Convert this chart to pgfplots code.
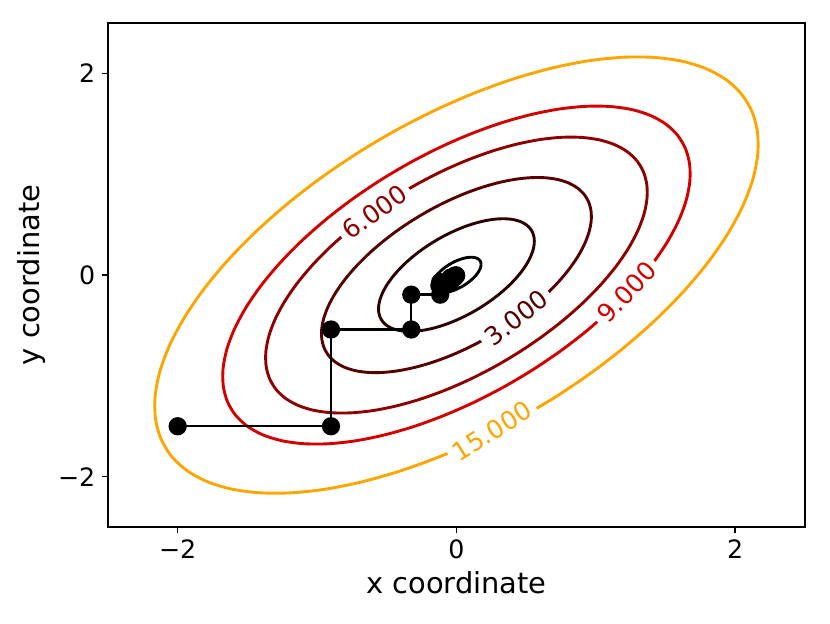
\documentclass[border=0pt]{standalone}
\usepackage{fontspec}
\setmainfont{DejaVu Sans}
\usepackage{pgfplots}
\pgfplotsset{compat=1.18}
\definecolor{cA}{HTML}{000000}
\definecolor{cB}{HTML}{2C0000}
\definecolor{cC}{HTML}{560000}
\definecolor{cD}{HTML}{8E0000}
\definecolor{cE}{HTML}{D40000}
\definecolor{cF}{HTML}{FFA500}
\begin{document}
\begin{tikzpicture}
\useasboundingbox (-59.8pt,-53.2pt) rectangle (399.9pt,291.9pt);
\begin{axis}[
  at={(0,0)}, anchor=south west,
  scale only axis, width=386pt, height=279.1pt,
  xmin=-2.5, xmax=2.5, ymin=-2.5, ymax=2.5,
  xtick={-2,0,2}, ytick={-2,0,2},
  xticklabels={−2,0,2}, yticklabels={−2,0,2},
  tick align=outside, xtick pos=bottom, ytick pos=left,
  major tick length=3.5pt,
  every tick/.style={black, line width=0.8pt},
  axis line style={line width=0.8pt},
  ticklabel style={font=\fontsize{14}{16}\selectfont},
  xlabel={x coordinate}, ylabel={y coordinate},
  label style={font=\fontsize{16}{19}\selectfont},
]
% level 0.1
\addplot[cA, line width=1.6pt, smooth] coordinates {
(.07906,-.07906) (.05774,-.09902) (.03545,-.11729) (.01253,-.13355) (-.01059,-.14752) (-.03353,-.15898)
(-.05591,-.16770) (-.07732,-.17356) (-.09740,-.17646) (-.11582,-.17634) (-.13228,-.17320) (-.14645,-.16708)
(-.15811,-.15811) (-.16708,-.14645) (-.17320,-.13228) (-.17634,-.11582) (-.17646,-.09740) (-.17356,-.07732)
(-.16770,-.05591) (-.15898,-.03353) (-.14752,-.01059) (-.13355,.01253) (-.11729,.03545) (-.09902,.05774)
(-.07906,.07906) (-.05774,.09902) (-.03545,.11729) (-.01253,.13355) (.01059,.14752) (.03353,.15898)
(.05591,.16770) (.07732,.17356) (.09740,.17646) (.11582,.17634) (.13228,.17320) (.14645,.16708)
(.15811,.15811) (.16708,.14645) (.17320,.13228) (.17634,.11582) (.17646,.09740) (.17356,.07732)
(.16770,.05591) (.15898,.03353) (.14752,.01059) (.13355,-.01253) (.11729,-.03545) (.09902,-.05774)
(.07906,-.07906)};
% level 1
\addplot[cB, line width=1.6pt, smooth] coordinates {
(.25,-.25) (.18259,-.31313) (.1121,-.3709) (.03963,-.42231) (-.0335,-.4665) (-.10604,-.50272)
(-.1768,-.5303) (-.24449,-.54887) (-.3080,-.5580) (-.36627,-.55761) (-.4183,-.5477) (-.46309,-.52835)
(-.5,-.5) (-.52835,-.46309) (-.5477,-.4183) (-.55761,-.36627) (-.5580,-.3080) (-.54887,-.24449)
(-.5303,-.1768) (-.50272,-.10604) (-.4665,-.0335) (-.42231,.03963) (-.3709,.1121) (-.31313,.18259)
(-.25,.25) (-.18259,.31313) (-.1121,.3709) (-.03963,.42231) (.0335,.4665) (.10604,.50272)
(.1768,.5303) (.24449,.54887) (.3080,.5580) (.36627,.55761) (.4183,.5477) (.46309,.52835)
(.5,.5) (.52835,.46309) (.5477,.4183) (.55761,.36627) (.5580,.3080) (.54887,.24449)
(.5303,.1768) (.50272,.10604) (.4665,.0335) (.42231,-.03963) (.3709,-.1121) (.31313,-.18259)
(.25,-.25)};
% level 3
\addplot[cC, line width=1.6pt, smooth] coordinates {
(.43301,-.43301) (.31626,-.54236) (.19416,-.64242) (.06864,-.73146) (-.05802,-.80800) (-.18367,-.87074)
(-.30623,-.91851) (-.42347,-.95067) (-.53347,-.96648) (-.63440,-.96581) (-.72452,-.94864) (-.80209,-.91513)
(-.86603,-.86603) (-.91513,-.80209) (-.94864,-.72452) (-.96581,-.63440) (-.96648,-.53347) (-.95067,-.42347)
(-.91851,-.30623) (-.87074,-.18367) (-.80800,-.05802) (-.73146,.06864) (-.64242,.19416) (-.54236,.31626)
(-.43301,.43301) (-.31626,.54236) (-.19416,.64242) (-.06864,.73146) (.05802,.80800) (.18367,.87074)
(.30623,.91851) (.42347,.95067) (.53347,.96648) (.63440,.96581) (.72452,.94864) (.80209,.91513)
(.86603,.86603) (.91513,.80209) (.94864,.72452) (.96581,.63440) (.96648,.53347) (.95067,.42347)
(.91851,.30623) (.87074,.18367) (.80800,.05802) (.73146,-.06864) (.64242,-.19416) (.54236,-.31626)
(.43301,-.43301)};
% level 6
\addplot[cD, line width=1.6pt, smooth] coordinates {
(-.61237,.61237) (-.44725,.76701) (-.27459,.90852) (-.09707,1.03445) (.08206,1.14269) (.25974,1.23141)
(.43307,1.29896) (.59888,1.34445) (.75444,1.36682) (.89718,1.36586) (1.02462,1.34159) (1.13433,1.29419)
(1.22474,1.22474) (1.29419,1.13433) (1.34159,1.02462) (1.36586,.89718) (1.36682,.75444) (1.34445,.59888)
(1.29896,.43307) (1.23141,.25974) (1.14269,.08206) (1.03445,-.09707) (.90852,-.27459) (.76701,-.44725)
(.61237,-.61237) (.44725,-.76701) (.27459,-.90852) (.09707,-1.03445) (-.08206,-1.14269) (-.25974,-1.23141)
(-.43307,-1.29896) (-.59888,-1.34445) (-.75444,-1.36682) (-.89718,-1.36586) (-1.02462,-1.34159) (-1.13433,-1.29419)
(-1.22474,-1.22474) (-1.29419,-1.13433) (-1.34159,-1.02462) (-1.36586,-.89718) (-1.36682,-.75444) (-1.34445,-.59888)
(-1.29896,-.43307) (-1.23141,-.25974) (-1.14269,-.08206) (-1.03445,.09707) (-.90852,.27459) (-.76701,.44725)
(-.61237,.61237)};
% level 9
\addplot[cE, line width=1.6pt, smooth] coordinates {
(1.1127,-.3363) (.93939,-.54777) (.75,-.75) (.54777,-.93939) (.3363,-1.1127) (.11889,-1.26693)
(-.1005,-1.3995) (-.31812,-1.50816) (-.5304,-1.5909) (-.73347,-1.64661) (-.924,-1.674) (-1.09881,-1.67283)
(-1.2549,-1.6431) (-1.38927,-1.58505) (-1.5,-1.5) (-1.58505,-1.38927) (-1.6431,-1.2549) (-1.67283,-1.09881)
(-1.674,-.924) (-1.64661,-.73347) (-1.5909,-.5304) (-1.50816,-.31812) (-1.3995,-.1005) (-1.26693,.11889)
(-1.1127,.3363) (-.93939,.54777) (-.75,.75) (-.54777,.93939) (-.3363,1.1127) (-.11889,1.26693)
(.1005,1.3995) (.31812,1.50816) (.5304,1.5909) (.73347,1.64661) (.924,1.674) (1.09881,1.67283)
(1.2549,1.6431) (1.38927,1.58505) (1.5,1.5) (1.58505,1.38927) (1.6431,1.2549) (1.67283,1.09881)
(1.674,.924) (1.64661,.73347) (1.5909,.5304) (1.50816,.31812) (1.3995,.1005) (1.26693,-.11889)
(1.1127,-.3363)};
% level 15
\addplot[cF, line width=1.6pt, smooth] coordinates {
(.43416,-1.43649) (.15349,-1.6356) (-.12974,-1.80675) (-.41069,-1.94702) (-.68474,-2.05384) (-.94691,-2.12576)
(-1.19288,-2.16112) (-1.41855,-2.15961) (-1.62007,-2.12123) (-1.79354,-2.04629) (-1.93649,-1.93649) (-2.04629,-1.79354)
(-2.12123,-1.62007) (-2.15961,-1.41855) (-2.16112,-1.19288) (-2.12576,-.94691) (-2.05384,-.68474) (-1.94702,-.41069)
(-1.80675,-.12974) (-1.6356,.15349) (-1.43649,.43416) (-1.21274,.70717) (-.96825,.96825) (-.70717,1.21274)
(-.43416,1.43649) (-.15349,1.6356) (.12974,1.80675) (.41069,1.94702) (.68474,2.05384) (.94691,2.12576)
(1.19288,2.16112) (1.41855,2.15961) (1.62007,2.12123) (1.79354,2.04629) (1.93649,1.93649) (2.04629,1.79354)
(2.12123,1.62007) (2.15961,1.41855) (2.16112,1.19288) (2.12576,.94691) (2.05384,.68474) (1.94702,.41069)
(1.80675,.12974) (1.6356,-.15349) (1.43649,-.43416) (1.21274,-.70717) (.96825,-.96825) (.70717,-1.21274)
(.43416,-1.43649)};
% contour labels
\begin{scope}[every node/.style={fill=white, inner xsep=3pt, inner ysep=1pt, font=\fontsize{14}{16}\selectfont}]
\node[text=cD, rotate=36] at (axis cs:-0.586,0.625) {6.000};
\node[text=cC, rotate=38] at (axis cs:0.429,-0.427) {3.000};
\node[text=cE, rotate=47] at (axis cs:1.221,-0.169) {9.000};
\node[text=cF, rotate=32] at (axis cs:0.257,-1.548) {15.000};
\end{scope}
% coordinate descent path
\addplot[black, line width=1.3pt, mark=*, mark size=4.4pt, mark options={fill=black}] coordinates {
(-2,-1.5) (-0.9,-1.5) (-0.9,-0.54) (-0.324,-0.54) (-0.324,-0.1944) (-0.11664,-0.1944)
(-0.11664,-0.069984) (-0.04199,-0.069984) (-0.04199,-0.025194) (-0.015117,-0.025194)
(-0.015117,-0.00907) (-0.005442,-0.00907) (-0.005442,-0.003265) (-0.001959,-0.003265)};
\end{axis}
\end{tikzpicture}
\end{document}
